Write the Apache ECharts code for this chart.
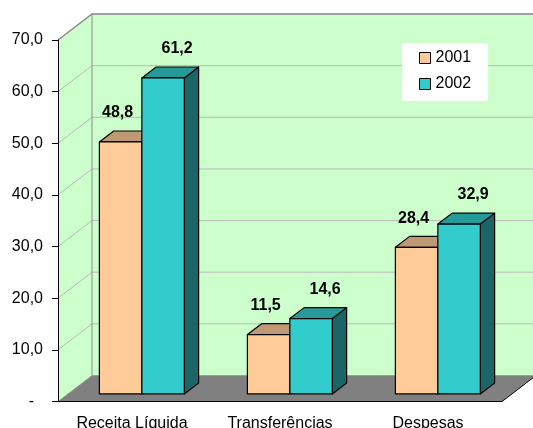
<!DOCTYPE html>
<html>
<head>
<meta charset="utf-8">
<script src="https://cdn.jsdelivr.net/npm/echarts@6/dist/echarts.min.js"></script>
<style>
html, body { margin: 0; padding: 0; background: #fff; }
#chart { width: 533px; height: 428px; }
</style>
</head>
<body>
<div id="chart"></div>
<script>
// data
const categories = ['Receita Líquida', 'Transferências', 'Despesas'];
const years = ['2001', '2002'];
const values2001 = [48.8, 11.5, 28.4];
const values2002 = [61.2, 14.6, 32.9];
const yTicks = [0, 10, 20, 30, 40, 50, 60, 70];

// 3d look
const DEPTH_X = 34, DEPTH_Y = -26;
const BAR_FRONT = 0.29, BAR_DEPTH = 0.42;
const BAR_W = 0.287;
const FONT = 'Liberation Sans, Arial, sans-serif';

function fmt(v) {
  return v.toFixed(1).replace('.', ',');
}

function renderWalls(params, api) {
  const cs = params.coordSys;
  const x0 = cs.x, x1 = cs.x + cs.width;
  const yTop = cs.y, yBot = cs.y + cs.height;
  const bx0 = x0 + DEPTH_X, bx1 = x1 + DEPTH_X;
  const kids = [];
  kids.push({ type: 'polygon', shape: { points: [[x0, yTop], [bx0, yTop + DEPTH_Y], [bx0, yBot + DEPTH_Y], [x0, yBot]] }, style: { fill: '#CCFFCC' } });
  kids.push({ type: 'rect', shape: { x: bx0, y: yTop + DEPTH_Y, width: cs.width, height: cs.height }, style: { fill: '#CCFFCC' } });
  yTicks.forEach(function (v) {
    const y = api.coord([0, v])[1];
    kids.push({ type: 'polyline', shape: { points: [[x0, y], [bx0, y + DEPTH_Y], [bx1, y + DEPTH_Y]] }, style: { stroke: '#BBBBBB', lineWidth: 1, fill: null } });
  });
  kids.push({ type: 'polyline', shape: { points: [[x0, yTop], [bx0, yTop + DEPTH_Y], [bx1, yTop + DEPTH_Y]] }, style: { stroke: '#8C8C8C', lineWidth: 1.5, fill: null } });
  kids.push({ type: 'line', shape: { x1: bx0, y1: yTop + DEPTH_Y, x2: bx0, y2: yBot + DEPTH_Y }, style: { stroke: '#8C8C8C', lineWidth: 1 } });
  // floor
  kids.push({ type: 'polygon', shape: { points: [[x0, yBot], [x1, yBot], [bx1, yBot + DEPTH_Y], [bx0, yBot + DEPTH_Y]] }, style: { fill: '#808080' } });
  kids.push({ type: 'line', shape: { x1: x1, y1: yBot, x2: bx1, y2: yBot + DEPTH_Y }, style: { stroke: '#000', lineWidth: 1 } });
  return { type: 'group', children: kids };
}

function barRenderer(idx, cFront, cTop, cSide, lblDx, lblDy) {
  return function (params, api) {
    const cat = api.value(0), val = api.value(1);
    const base = api.coord([cat, 0]);
    const tip = api.coord([cat, val]);
    const w = api.size([1, 0])[0] * BAR_W;
    const ox = DEPTH_X * BAR_FRONT, oy = DEPTH_Y * BAR_FRONT;
    const dx = DEPTH_X * BAR_DEPTH, dy = DEPTH_Y * BAR_DEPTH;
    const left = base[0] + ox - (idx === 0 ? w : 0);
    const right = left + w;
    const yB = base[1] + oy, yT = tip[1] + oy;
    const line = { stroke: '#000', lineWidth: 1.2, lineJoin: 'round' };
    return {
      type: 'group',
      children: [
        { type: 'polygon', shape: { points: [[right, yT], [right + dx, yT + dy], [right + dx, yB + dy], [right, yB]] }, style: Object.assign({ fill: cSide }, line) },
        { type: 'polygon', shape: { points: [[left, yT], [right, yT], [right + dx, yT + dy], [left + dx, yT + dy]] }, style: Object.assign({ fill: cTop }, line) },
        { type: 'rect', shape: { x: left, y: yT, width: w, height: yB - yT }, style: Object.assign({ fill: cFront }, line) },
        { type: 'text', x: (left + right) / 2 + lblDx, y: yT + lblDy, style: { text: fmt(val), font: 'bold 16px ' + FONT, fill: '#000', align: 'center', verticalAlign: 'middle' } }
      ]
    };
  };
}

const chart = echarts.init(document.getElementById('chart'));
chart.setOption({
  animation: false,
  backgroundColor: '#fff',
  textStyle: { fontFamily: FONT },
  grid: { left: 58, right: 31, top: 40, bottom: 26.5, containLabel: false, outerBoundsMode: 'none' },
  legend: {
    data: years,
    orient: 'vertical',
    left: 402,
    top: 43,
    backgroundColor: '#fff',
    padding: [7, 17, 9, 17],
    itemWidth: 11,
    itemHeight: 11,
    itemGap: 10,
    itemTextGap: 5,
    icon: 'rect',
    itemStyle: { borderColor: '#000', borderWidth: 1 },
    textStyle: { fontSize: 16, color: '#000', fontFamily: FONT }
  },
  xAxis: {
    type: 'category',
    data: categories,
    z: 10,
    axisLine: { lineStyle: { color: '#000', width: 1 } },
    axisTick: { length: 6, lineStyle: { color: '#000' } },
    axisLabel: { margin: 14, fontSize: 16, color: '#000', fontFamily: FONT, interval: 0 },
    splitLine: { show: false }
  },
  yAxis: {
    type: 'value',
    min: 0,
    max: 70,
    interval: 10,
    z: 10,
    axisLine: { show: true, lineStyle: { color: '#000', width: 1 } },
    axisTick: { show: true, length: 6, lineStyle: { color: '#000' } },
    axisLabel: {
      margin: 15, fontSize: 16, color: '#000', fontFamily: FONT,
      formatter: function (v) { return v === 0 ? '-\u00a0\u00a0' : fmt(v); }
    },
    splitLine: { show: false }
  },
  series: [
    { name: 'walls', type: 'custom', z: 1, silent: true, renderItem: renderWalls, data: [[0, 0]] },
    {
      name: '2001', type: 'custom', z: 2,
      itemStyle: { color: '#FFCC99', borderColor: '#000' },
      renderItem: barRenderer(0, '#FFCC99', '#BF9973', '#806650', -3, -29),
      data: values2001.map(function (v, i) { return [i, v]; })
    },
    {
      name: '2002', type: 'custom', z: 3,
      itemStyle: { color: '#33CCCC', borderColor: '#000' },
      renderItem: barRenderer(1, '#33CCCC', '#269999', '#1A6666', 14, -29),
      data: values2002.map(function (v, i) { return [i, v]; })
    }
  ]
});
</script>
</body>
</html>
